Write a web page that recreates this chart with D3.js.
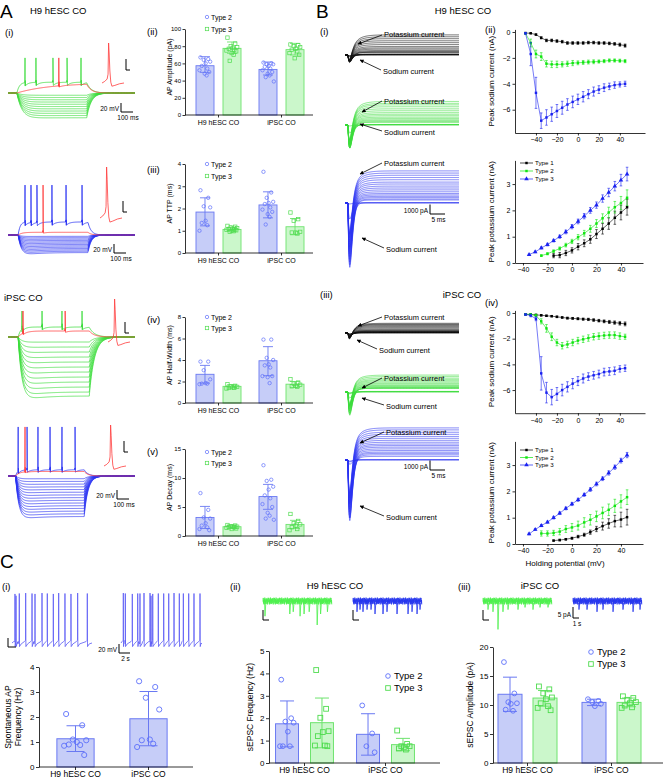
<!DOCTYPE html>
<html><head><meta charset="utf-8">
<script src="https://cdn.jsdelivr.net/npm/d3@7/dist/d3.min.js"></script>
<style>html,body{margin:0;padding:0;background:#fff}svg{display:block}</style>
</head><body>
<svg id="fig" width="668" height="778" xmlns="http://www.w3.org/2000/svg"></svg>
<script>
// ================= DATA =================
const groups = ["H9 hESC CO", "iPSC CO"];
const types = ["Type 2", "Type 3"];
// bar order: H9 Type 2, H9 Type 3, iPSC Type 2, iPSC Type 3
const apAmpMean = [57.3, 77.5, 53.0, 76.0];
const apAmpHi = [67.8, 84.9, 61.6, 83.3];
const apAmpLo = [49.6, 71.7, 46.5, 69.8];
const apAmpPts = [[67,65,64,62,60,57,54,52,50,48,46],[90,83,80,79,78,77,76,75,74,72,70,63],[61,60,59,59,57,56,54,52,50,48,46,44,39],[82,81,80,79,77,76,74,72,70,66]];
const apTtpMean = [1.84, 1.06, 2.16, 1.18];
const apTtpHi = [2.48, 1.15, 2.75, 1.55];
const apTtpLo = [1.22, 0.98, 1.58, 0.82];
const apTtpPts = [[2.82,2.48,2.1,2.05,1.45,1.35,1.25,1.0],[1.22,1.18,1.15,1.12,1.1,1.08,1.06,1.04,1.02,1.0,0.98,0.95],[3.65,2.72,2.48,2.3,2.25,2.2,2.05,1.95,1.85,1.75,1.62,1.28],[1.82,1.52,1.45,0.95,0.92,0.92,0.88]];
const apHwMean = [2.67, 1.55, 3.93, 1.75];
const apHwHi = [3.5, 1.7, 5.24, 2.0];
const apHwLo = [1.85, 1.4, 2.54, 1.45];
const apHwPts = [[3.85,3.85,3.05,2.2,1.85,1.8,1.8,1.75],[1.75,1.6,1.55,1.5,1.45,1.4,1.4,1.35],[5.9,5.9,4.2,4.0,3.6,3.5,3.3,2.5,2.5,2.4,1.85],[2.2,1.9,1.8,1.7,1.6,1.55,1.5]];
const apDecayMean = [3.2, 1.6, 6.8, 2.0];
const apDecayHi = [5.1, 1.9, 8.9, 2.7];
const apDecayLo = [1.3, 1.3, 4.6, 1.3];
const apDecayPts = [[7.4,4.5,3.2,3.0,2.2,1.8,1.5,1.2,1.0],[1.9,1.8,1.7,1.6,1.6,1.5,1.5,1.4,1.3,1.2],[12.2,9.7,9.5,8.5,8.0,7.0,6.5,5.5,5.0,4.0,3.5,3.0,2.8],[3.8,2.6,2.2,2.0,1.8,1.5,1.2,1.0]];

// spontaneous AP frequency (Hz): H9, iPSC
const spFreqMean = [1.13, 1.93];
const spFreqHi = [1.65, 3.02];
const spFreqLo = [0.62, 0.85];
const spFreqPts = [[2.12,1.67,1.1,1.07,1.0,0.9,0.88,0.85,0.48],[3.43,3.2,2.77,2.3,1.1,1.07,0.93,0.8]];
// sEPSC frequency (Hz)
const sepscFreqMean = [1.75, 1.8, 1.28, 0.82];
const sepscFreqHi = [2.77, 2.9, 2.2, 1.1];
const sepscFreqLo = [0.72, 0.68, 0.35, 0.55];
const sepscFreqPts = [[3.72,2.0,1.85,1.8,1.4,0.75,0.75,0.75],[4.15,2.42,2.02,1.42,1.38,1.2,0.78,0.78,0.75],[2.57,1.32,0.75,0.48],[1.45,0.85,0.75,0.75,0.7,0.65,0.6]];
// sEPSC amplitude (pA)
const sepscAmpMean = [11.85, 11.2, 10.45, 10.45];
const sepscAmpHi = [14.8, 12.5, 11.0, 11.2];
const sepscAmpLo = [8.9, 9.8, 9.9, 9.7];
const sepscAmpPts = [[17.4,12.0,10.5,10.3,10.2,9.2,9.0],[13.2,12.7,12.0,11.3,11.0,10.3,9.8,9.5,9.1],[11.0,10.7,10.5,10.2,9.8],[11.5,11.2,10.9,10.5,10.3,9.9,9.6,9.5]];

// I-V data (holding potential, mV)
const ivTypes = ["Type 1", "Type 2", "Type 3"];
const naVolt = [-50,-45,-40,-35,-30,-25,-20,-15,-10,-5,0,5,10,15,20,25,30,35,40,45];
const kVoltT1 = [-15,-10,-5,0,5,10,15,20,25,30,35,40,45];
const kVoltT2 = [-25,-20,-15,-10,-5,0,5,10,15,20,25,30,35,40,45];
const kVoltT3 = [-35,-30,-25,-20,-15,-10,-5,0,5,10,15,20,25,30,35,40,45];
// H9 hESC CO sodium (nA)
const naH9T1 = [-0.08,-0.1,-0.2,-0.45,-0.65,-0.65,-0.7,-0.75,-0.85,-0.85,-0.85,-0.85,-0.82,-0.82,-0.85,-0.85,-0.88,-0.92,-0.98,-1.05];
const naH9T1e = [0.03,0.03,0.05,0.08,0.1,0.1,0.1,0.1,0.1,0.1,0.1,0.1,0.1,0.1,0.1,0.1,0.1,0.1,0.12,0.12];
const naH9T2 = [-0.1,-0.85,-1.7,-1.9,-2.45,-2.5,-2.5,-2.5,-2.45,-2.4,-2.38,-2.35,-2.32,-2.3,-2.28,-2.25,-2.2,-2.2,-2.22,-2.25];
const naH9T2e = [0.05,0.3,0.3,0.3,0.25,0.25,0.25,0.2,0.2,0.2,0.15,0.15,0.15,0.15,0.12,0.12,0.12,0.12,0.12,0.12];
const naH9T3 = [-0.1,-1.7,-4.7,-6.85,-6.6,-6.35,-6.1,-5.85,-5.6,-5.4,-5.2,-5.0,-4.8,-4.6,-4.45,-4.3,-4.2,-4.1,-4.05,-4.0];
const naH9T3e = [0.05,0.9,1.2,0.6,0.6,0.55,0.5,0.5,0.45,0.45,0.4,0.4,0.35,0.35,0.3,0.3,0.25,0.25,0.2,0.2];
// H9 hESC CO potassium (nA)
const kH9T1 = [0.28,0.3,0.38,0.48,0.62,0.75,0.9,1.1,1.3,1.5,1.72,1.92,2.12];
const kH9T1e = [0.08,0.1,0.1,0.1,0.12,0.13,0.15,0.17,0.2,0.22,0.25,0.28,0.3];
const kH9T2 = [0.28,0.35,0.45,0.55,0.68,0.82,0.98,1.13,1.3,1.5,1.7,1.92,2.12,2.28,2.48];
const kH9T2e = [0.03,0.04,0.05,0.06,0.07,0.08,0.1,0.11,0.13,0.15,0.17,0.2,0.22,0.25,0.3];
const kH9T3 = [0.32,0.42,0.57,0.7,0.85,1.0,1.18,1.38,1.58,1.78,2.0,2.2,2.45,2.68,2.92,3.15,3.38];
const kH9T3e = [0.02,0.03,0.04,0.05,0.05,0.06,0.07,0.08,0.09,0.1,0.11,0.12,0.14,0.16,0.18,0.22,0.26];
// iPSC CO sodium (nA)
const naIpT1 = [-0.1,-0.12,-0.15,-0.18,-0.22,-0.25,-0.3,-0.35,-0.4,-0.42,-0.45,-0.48,-0.5,-0.55,-0.6,-0.65,-0.7,-0.75,-0.8,-0.85];
const naIpT1e = [0.03,0.03,0.04,0.05,0.05,0.05,0.06,0.06,0.07,0.07,0.08,0.08,0.09,0.1,0.1,0.11,0.12,0.13,0.14,0.15];
const naIpT2 = [-0.1,-0.12,-0.2,-0.65,-1.2,-1.85,-2.3,-2.55,-2.45,-2.3,-2.15,-2.05,-1.95,-1.85,-1.8,-1.75,-1.72,-1.72,-1.8,-1.85];
const naIpT2e = [0.05,0.05,0.1,0.2,0.3,0.3,0.25,0.25,0.25,0.25,0.25,0.25,0.25,0.25,0.25,0.25,0.25,0.25,0.25,0.2];
const naIpT3 = [-0.12,-0.2,-0.45,-4.7,-6.2,-6.55,-6.3,-6.0,-5.75,-5.5,-5.3,-5.1,-4.95,-4.85,-4.75,-4.6,-4.55,-4.5,-4.35,-4.3];
const naIpT3e = [0.05,0.1,0.15,1.3,0.8,0.6,0.5,0.45,0.4,0.4,0.35,0.35,0.3,0.3,0.3,0.3,0.3,0.3,0.25,0.25];
// iPSC CO potassium (nA)
const kIpT1 = [0.13,0.15,0.18,0.22,0.28,0.35,0.45,0.57,0.68,0.78,0.87,0.93,1.02];
const kIpT1e = [0.02,0.03,0.03,0.04,0.05,0.06,0.08,0.1,0.15,0.18,0.22,0.28,0.3];
const kIpT2 = [0.4,0.4,0.42,0.47,0.57,0.63,0.7,0.82,0.92,1.05,1.18,1.3,1.45,1.62,1.78];
const kIpT2e = [0.1,0.1,0.1,0.12,0.13,0.15,0.17,0.18,0.2,0.2,0.22,0.22,0.25,0.25,0.28];
const kIpT3 = [0.38,0.55,0.7,0.83,1.0,1.17,1.35,1.52,1.68,1.87,2.07,2.28,2.48,2.7,2.92,3.17,3.38];
const kIpT3e = [0.03,0.03,0.04,0.04,0.05,0.05,0.05,0.06,0.06,0.06,0.07,0.07,0.07,0.08,0.08,0.09,0.1];

// Current-clamp example traces (A i): step levels (mV from rest) and spike times (ms)
const h9T3Steps = [-5,-10,-15,-20,-25,-30,-35,-40,-45,-50,-55];
const h9T3Spikes = [134,220,354,465,575];
const h9T3RedSpikes = [400];
const h9T2Steps = [-3,-6,-9,-12,-15,-18,-21,-24,-27,-30,-33,-36,-39];
const h9T2Spikes = [134,181,228,346,457,583];
const h9T2RedSpikes = [276];
const ipT3Steps = [-10,-20,-30,-40,-50,-60,-70,-80,-90,-100,-110,-118];
const ipT3Spikes = [110,268,425,583];
const ipT3RedSpikes = [118,450];
const ipT2Steps = [-6,-12,-18,-24,-30,-36,-42,-48,-54,-60,-66,-72,-78,-84,-90];
const ipT2Spikes = [80,150,236,331,425,528];
const ipT2RedSpikes = [134];
// single expanded AP shape (ms, fraction of peak)
const insetShape = [[0,0],[15,0.04],[28,0.1],[33,0.22],[36,1.0],[39,0.75],[43,0.3],[48,0.02],[54,-0.08],[70,-0.06],[95,-0.02],[120,0]];

// spontaneous AP traces (C i): spike times (s), peak (mV)
const spontH9Times = [0.54,0.73,1.32,2.48,3.63,4.17,5.44,6.4,7.49,8.46,9.6,10.69,11.9,13.65];
const spontH9Peaks = [44,40,45,46,45,44,46,45,44,46,45,44,46,45];
const spontIpTimes = [0.42,0.78,2.05,3.03,3.44,4.17,5.26,5.44,5.75,6.76,7.74,8.65,9.61,10.57,11.3,12.27,13.23,14.32];
const spontIpPeaks = [46,45,44,45,45,46,46,40,44,45,45,45,46,45,45,45,45,45];
// sEPSC events (s, pA)
const evH9T3 = [0.35,4.7,5.3,6.5,7.2,8.1,9.5,10.1,11.3];
const evH9T3Amp = [6,5,4,6,5,4,10,5,4];
const evH9T2 = [0.7,1.23,1.75,2.46,3.16,3.86,5.26,5.96,7.72,9.65,10.35,11.23,11.75];
const evH9T2Amp = [4,3,4,3,3,5,5,4,5,5,4,5,3];
const evIpT3 = [0.88,1.75,2.63,3.5,4.39,6.14,7.37,8.77,10,11.4];
const evIpT3Amp = [3,4,12,4,3,3,2,3,2,2];
const evIpT2 = [1.05,2.46,4.21,5.26,7.02,8.77,10.53,11.75];
const evIpT2Amp = [3,3,4,3,4,3,4,3];
const noisePattern = [0.2,-0.9,0.7,-0.3,1.0,-0.6,0.4,-1.0,0.8,-0.2,0.5,-0.7,0.9,-0.4,0.1,-0.8,0.6,-0.5,1.0,-0.1,-0.95,0.3];

// ================= STYLE =================
const FONT = '"Liberation Sans", Arial, Helvetica, sans-serif';
const C2 = {stroke:"#6a79f2", fill:"#c6cdf8", pt:"#5e70fb"};
const C3 = {stroke:"#6ee36e", fill:"#cbf7cb", pt:"#4fdc4f"};
const IVC = ["#000000", "#10e610", "#1a22f0"];
const RED = "#ff3b3b", TGREEN = "#3bdc3b", TBLUE = "#2a32f2";
const jitter = [-0.7,0.5,-0.2,0.8,0.1,-0.5,0.35,-0.85,0.65,-0.05,0.25,-0.35,0.9,-0.6];

const svg = d3.select("#fig").attr("font-family", FONT);
svg.append("rect").attr("width",668).attr("height",778).attr("fill","#fff");
svg.append("defs").append("marker").attr("id","arr").attr("viewBox","0 0 10 10").attr("refX",9).attr("refY",5)
  .attr("markerWidth",5).attr("markerHeight",5).attr("orient","auto")
  .append("path").attr("d","M0,0L10,5L0,10z").attr("fill","#000");

function T(x, y, s, o = {}) {
  const t = svg.append("text").attr("x", x).attr("y", y).text(s)
    .attr("font-size", o.size || 8).attr("text-anchor", o.anchor || "start").attr("fill", o.fill || "#000");
  if (o.rot) t.attr("transform", `rotate(-90,${x},${y})`);
  return t;
}
function styleAxis(sel, fs) {
  sel.selectAll("text").attr("font-size", fs).attr("font-family", FONT).attr("fill", "#000");
  sel.selectAll("line,path").attr("stroke", "#000").attr("stroke-width", 0.8);
}
function marker(g, kind, x, y, r, col, sw) {
  if (kind === 0) g.append("circle").attr("cx",x).attr("cy",y).attr("r",r).attr("fill","none").attr("stroke",col).attr("stroke-width",sw);
  else g.append("rect").attr("x",x-r).attr("y",y-r).attr("width",2*r).attr("height",2*r).attr("fill","none").attr("stroke",col).attr("stroke-width",sw);
}

// ================= BAR CHARTS =================
function barChart(c) {
  const g = svg.append("g");
  const y = d3.scaleLinear().domain(c.domain).range([c.yBot, c.yTop]);
  const gx = d3.scaleBand().domain(groups).range(c.band).paddingInner(c.gPadIn || 0).paddingOuter(c.gPadOut || 0);
  const series = c.series;
  const sx = d3.scaleBand().domain(series).range([0, gx.bandwidth()]).paddingInner(c.padIn || 0).paddingOuter(c.padOut || 0);
  const bw = sx.bandwidth();
  groups.forEach((grp, gi) => series.forEach((s, si) => {
    const k = gi * series.length + si;
    const col = c.colors[si];
    const x0 = gx(grp) + sx(s), cx = x0 + bw / 2;
    g.append("rect").attr("x", x0).attr("y", y(c.mean[k])).attr("width", bw).attr("height", y(0) - y(c.mean[k]))
      .attr("fill", col.fill).attr("stroke", col.stroke).attr("stroke-width", c.sw);
    const cap = c.cap;
    g.append("line").attr("x1",cx).attr("x2",cx).attr("y1",y(c.lo[k])).attr("y2",y(c.hi[k])).attr("stroke",col.stroke).attr("stroke-width",c.sw);
    [c.lo[k], c.hi[k]].forEach(v => g.append("line").attr("x1",cx-cap).attr("x2",cx+cap).attr("y1",y(v)).attr("y2",y(v)).attr("stroke",col.stroke).attr("stroke-width",c.sw));
    c.pts[k].forEach((v, i) => marker(g, c.kinds[si], cx + jitter[i % jitter.length] * bw * 0.36, y(v), c.r, col.pt, c.psw));
  }));
  // y axis
  const ya = d3.axisLeft(y).tickValues(c.ticks).tickSize(c.tl).tickSizeOuter(0).tickPadding(1.5).tickFormat(d3.format("~g"));
  g.append("g").attr("transform", `translate(${c.x0},0)`).call(ya).call(s => styleAxis(s, c.tf));
  // x axis
  g.append("line").attr("x1", c.x0).attr("x2", c.x1).attr("y1", c.yBot).attr("y2", c.yBot).attr("stroke","#000").attr("stroke-width",0.8);
  groups.forEach(grp => {
    const cx = gx(grp) + gx.bandwidth() / 2;
    g.append("line").attr("x1",cx).attr("x2",cx).attr("y1",c.yBot).attr("y2",c.yBot + c.tl).attr("stroke","#000").attr("stroke-width",0.8);
    g.append("text").attr("x", cx).attr("y", c.yBot + c.xly).attr("text-anchor","middle").attr("font-size", c.xf).text(grp);
  });
  // y label
  const ym = (c.yTop + c.yBot) / 2;
  c.yLabel.forEach((s, i) => T(c.ylx + i * c.yldx, ym + (c.ylOff || 0), s, {size: c.lf, anchor: "middle", rot: true}));
  // legend
  if (c.legend) series.forEach((s, si) => {
    const ly = c.legend.y + si * c.legend.dy;
    marker(g, c.kinds[si], c.legend.x, ly, c.legend.r, c.colors[si].pt, c.psw);
    g.append("text").attr("x", c.legend.x + c.legend.tx).attr("y", ly + c.legend.fs * 0.36).attr("font-size", c.legend.fs).text(s);
  });
}

const aCommon = {x0:185, x1:313, band:[187,313], series:types, colors:[C2,C3], kinds:[0,1], padIn:0.333, padOut:0.333,
  sw:0.9, cap:5, r:1.7, psw:0.7, tl:2.5, tf:6, xf:7, xly:10, lf:7, ylx:172, yldx:0, ylOff:-5};
barChart(Object.assign({}, aCommon, {yTop:29, yBot:115, domain:[0,100], ticks:[0,20,40,60,80,100], mean:apAmpMean, hi:apAmpHi, lo:apAmpLo, pts:apAmpPts,
  yLabel:["AP Amplitude (pA)"], legend:{x:207, y:17, dy:12, r:1.7, tx:4, fs:7}}));
barChart(Object.assign({}, aCommon, {yTop:164, yBot:253, domain:[0,4], ticks:[0,1,2,3,4], mean:apTtpMean, hi:apTtpHi, lo:apTtpLo, pts:apTtpPts,
  yLabel:["AP TTP (ms)"], legend:{x:207, y:164, dy:12, r:1.7, tx:4, fs:7}}));
barChart(Object.assign({}, aCommon, {yTop:317, yBot:403, domain:[0,8], ticks:[0,2,4,6,8], mean:apHwMean, hi:apHwHi, lo:apHwLo, pts:apHwPts,
  yLabel:["AP Half-Width (ms)"], legend:{x:207, y:317, dy:11, r:1.7, tx:4, fs:7}}));
barChart(Object.assign({}, aCommon, {yTop:449, yBot:536, domain:[0,15], ticks:[0,5,10,15], mean:apDecayMean, hi:apDecayHi, lo:apDecayLo, pts:apDecayPts,
  yLabel:["AP Decay (ms)"], legend:{x:207, y:452, dy:11, r:1.7, tx:4, fs:7}}));

// C bar charts
barChart({x0:39, x1:193, band:[39,185], gPadIn:0.49, gPadOut:0.245, series:["all"], colors:[C2], kinds:[0],
  yTop:667, yBot:767, domain:[0,4], ticks:[0,1,2,3,4], mean:spFreqMean, hi:spFreqHi, lo:spFreqLo, pts:spFreqPts,
  sw:1, cap:9, r:2.6, psw:0.9, tl:3, tf:8, xf:8.5, xly:10, lf:8.5, ylx:11, yldx:10, yLabel:["Spontaneous AP","Frequency (Hz)"]});
barChart({x0:269, x1:440, band:[264,426], series:types, colors:[C2,C3], kinds:[0,1], padIn:0.343, padOut:0.33,
  yTop:651, yBot:763, domain:[0,5], ticks:[0,1,2,3,4,5], mean:sepscFreqMean, hi:sepscFreqHi, lo:sepscFreqLo, pts:sepscFreqPts,
  sw:1, cap:7, r:2.4, psw:0.9, tl:3, tf:8, xf:8.5, xly:10, lf:8.5, ylx:253, yldx:0, yLabel:["sEPSC Frequency (Hz)"],
  legend:{x:388, y:676, dy:12, r:2.3, tx:6, fs:9.5}});
barChart({x0:493, x1:663, band:[485.5,653.5], series:types, colors:[C2,C3], kinds:[0,1], padIn:0.314, padOut:0.357,
  yTop:647, yBot:763, domain:[0,20], ticks:[0,5,10,15,20], mean:sepscAmpMean, hi:sepscAmpHi, lo:sepscAmpLo, pts:sepscAmpPts,
  sw:1, cap:7, r:2.4, psw:0.9, tl:3, tf:8, xf:8.5, xly:10, lf:8.5, ylx:473, yldx:0, yLabel:["sEPSC Amplitude (pA)"],
  legend:{x:591, y:652, dy:12, r:2.3, tx:6, fs:9.5}});

// ================= I-V CHARTS =================
function ivChart(c) {
  const g = svg.append("g");
  const x = d3.scaleLinear().domain(c.xDom).range(c.xRange);
  const y = d3.scaleLinear().domain(c.yDom).range(c.yRange);
  const ya = d3.axisLeft(y).tickValues(c.yTicks).tickSize(2.5).tickSizeOuter(0).tickPadding(2).tickFormat(d3.format("d"));
  g.append("g").attr("transform", `translate(${c.xRange[0]},0)`).call(ya).call(s => styleAxis(s, 7));
  const xa = d3.axisBottom(x).tickValues([-40,-20,0,20,40]).tickSize(2.5).tickSizeOuter(0).tickPadding(2).tickFormat(d3.format("d"));
  g.append("g").attr("transform", `translate(0,${Math.max(c.yRange[0], c.yRange[1])})`).call(xa).call(s => styleAxis(s, 7));
  c.series.forEach((s, si) => {
    const col = IVC[si];
    const pts = s.v.map((v, i) => ({x: s.x[i], y: v, e: s.e[i]}));
    g.append("path").datum(pts).attr("d", d3.line().x(d => x(d.x)).y(d => y(d.y))).attr("fill","none").attr("stroke",col).attr("stroke-width",0.7).attr("opacity",0.85);
    pts.forEach(d => {
      g.append("line").attr("x1",x(d.x)).attr("x2",x(d.x)).attr("y1",y(d.y-d.e)).attr("y2",y(d.y+d.e)).attr("stroke",col).attr("stroke-width",0.6);
      [d.y-d.e, d.y+d.e].forEach(v => g.append("line").attr("x1",x(d.x)-1.3).attr("x2",x(d.x)+1.3).attr("y1",y(v)).attr("y2",y(v)).attr("stroke",col).attr("stroke-width",0.6));
      const sym = d3.symbol().type(c.tri && si === 2 ? d3.symbolTriangle : d3.symbolSquare).size(c.tri && si === 2 ? 9 : 6);
      g.append("path").attr("d", sym()).attr("transform", `translate(${x(d.x)},${y(d.y)})`).attr("fill", col);
    });
  });
  const ym = (c.yRange[0] + c.yRange[1]) / 2;
  T(c.ylx, ym, c.yLabel, {size: 8, anchor: "middle", rot: true});
  if (c.legend) ivTypes.forEach((s, si) => {
    const ly = c.legend.y + si * c.legend.dy;
    g.append("line").attr("x1", c.legend.x).attr("x2", c.legend.x + 13).attr("y1", ly).attr("y2", ly).attr("stroke", IVC[si]).attr("stroke-width", 0.7);
    const sym = d3.symbol().type(si === 2 ? d3.symbolTriangle : d3.symbolSquare).size(si === 2 ? 9 : 6);
    g.append("path").attr("d", sym()).attr("transform", `translate(${c.legend.x + 6.5},${ly})`).attr("fill", IVC[si]);
    g.append("text").attr("x", c.legend.x + 15).attr("y", ly + 2.2).attr("font-size", 6.2).text(s);
  });
}
const naX = [-60, 64], naXR = [515, 645];
const kX = [-46.5, 58], kXR = [515, 643];
ivChart({xDom:naX, xRange:naXR, yDom:[0.2,-7.8], yRange:[29.4,133], yTicks:[0,-2,-4,-6], ylx:494, yLabel:"Peak sodium current (nA)",
  series:[{x:naVolt,v:naH9T1,e:naH9T1e},{x:naVolt,v:naH9T2,e:naH9T2e},{x:naVolt,v:naH9T3,e:naH9T3e}]});
ivChart({xDom:kX, xRange:kXR, yDom:[0,3.9], yRange:[263,160.4], yTicks:[0,1,2,3], ylx:494, yLabel:"Peak potassium current (nA)", tri:true,
  legend:{x:520, y:163, dy:8},
  series:[{x:kVoltT1,v:kH9T1,e:kH9T1e},{x:kVoltT2,v:kH9T2,e:kH9T2e},{x:kVoltT3,v:kH9T3,e:kH9T3e}]});
ivChart({xDom:naX, xRange:naXR, yDom:[0.2,-7.8], yRange:[310.4,413.2], yTicks:[0,-2,-4,-6], ylx:494, yLabel:"Peak sodium current (nA)",
  series:[{x:naVolt,v:naIpT1,e:naIpT1e},{x:naVolt,v:naIpT2,e:naIpT2e},{x:naVolt,v:naIpT3,e:naIpT3e}]});
ivChart({xDom:kX, xRange:kXR, yDom:[0,3.9], yRange:[544,441.4], yTicks:[0,1,2,3], ylx:494, yLabel:"Peak potassium current (nA)", tri:true,
  legend:{x:520, y:450, dy:7.5},
  series:[{x:kVoltT1,v:kIpT1,e:kIpT1e},{x:kVoltT2,v:kIpT2,e:kIpT2e},{x:kVoltT3,v:kIpT3,e:kIpT3e}]});
T(565, 566, "Holding potential (mV)", {size: 8, anchor: "middle"});

// ================= VOLTAGE-CLAMP FAMILIES (B i, iii) =================
function currentFamily(x0, base, na, kV, kv, color, pxPerNA) {
  const g = svg.append("g");
  const tx = d3.scaleLinear().domain([0, 38]).range([x0, x0 + 114]);
  const iy = d3.scaleLinear().domain([0, 1]).range([base, base - pxPerNA]);
  naVolt.forEach((v, i) => {
    const ki = kV.indexOf(v);
    const k = ki >= 0 ? kv[ki] : 0.05 * (i + 1) / 4;
    const pts = d3.range(0, 38.01, 0.2).map(t => {
      let I = 0;
      if (t >= 1) { const u = t - 1; I = k * (1 - Math.exp(-u / 2.2)) + na[i] * (u / 0.6) * Math.exp(1 - u / 0.6); }
      return [t, I];
    });
    g.append("path").attr("d", d3.line().x(d => tx(d[0])).y(d => iy(d[1]))(pts)).attr("fill","none").attr("stroke",color).attr("stroke-width",0.6);
  });
}
currentFamily(345, 55, naH9T1, kVoltT1, kH9T1, "#111", 9.5);
currentFamily(345, 125, naH9T2, kVoltT2, kH9T2, TGREEN, 9.5);
currentFamily(345, 203, naH9T3, kVoltT3, kH9T3, TBLUE, 9.5);
currentFamily(345, 333, naIpT1, kVoltT1, kIpT1, "#111", 9.5);
currentFamily(345, 392, naIpT2, kVoltT2, kIpT2, TGREEN, 9.5);
currentFamily(345, 460, naIpT3, kVoltT3, kIpT3, TBLUE, 9.5);

const arrowNotes = [
  ["Potassium current",384,37,382,35,358,44], ["Sodium current",383,74,381,70,360,60],
  ["Potassium current",384,104,382,101,362,112], ["Sodium current",384,135,382,131,360,124],
  ["Potassium current",384,166,382,163,360,174], ["Sodium current",386,252,384,248,362,238],
  ["Potassium current",384,320,382,317,358,326], ["Sodium current",379,353,377,349,357,340],
  ["Potassium current",384,381,382,378,362,388], ["Sodium current",386,409,384,405,362,398],
  ["Potassium current",386,435,384,432,360,443], ["Sodium current",386,520,384,516,360,506]];
arrowNotes.forEach(a => {
  T(a[1], a[2], a[0], {size: 7.5});
  svg.append("line").attr("x1",a[3]).attr("y1",a[4]).attr("x2",a[5]).attr("y2",a[6]).attr("stroke","#000").attr("stroke-width",0.8).attr("marker-end","url(#arr)");
});
function scaleBar(cx, cy, h, w, lbl1, lbl2, fs) {
  svg.append("path").attr("d", `M${cx},${cy - h}V${cy}H${cx + w}`).attr("fill","none").attr("stroke","#000").attr("stroke-width",1);
  if (lbl1) T(cx - 2, cy - 1, lbl1, {size: fs, anchor: "end"});
  if (lbl2) T(cx + w / 2 + 1, cy + fs + 1, lbl2, {size: fs, anchor: "middle"});
}
scaleBar(430, 214, 9.5, 15, "1000 pA", "5 ms", 6.5);
scaleBar(430, 470, 9.5, 15, "1000 pA", "5 ms", 6.5);

// ================= CURRENT-CLAMP TRACES (A i) =================
function ccPanel(c) {
  const g = svg.append("g");
  const tx = d3.scaleLinear().domain([0, 1000]).range([8, 135]);
  const vy = d3.scaleLinear().domain([0, 1]).range([c.base, c.base - c.k]);
  const line = d3.line().x(d => tx(d[0])).y(d => vy(d[1]));
  const stepV = (t, L, tau, sag) => {
    if (t < c.on) return 0;
    const u = Math.min(t, c.off) - c.on;
    let v = L * (1 - Math.exp(-u / tau)) * (1 + sag * Math.exp(-u / 120));
    if (t > c.off) v *= Math.exp(-(t - c.off) / c.tauOff);
    return v;
  };
  c.steps.forEach(L => {
    const pts = d3.range(0, 1001, 4).map(t => [t, stepV(t, L, c.tau, c.sag)]);
    g.append("path").attr("d", line(pts)).attr("fill","none").attr("stroke",c.color).attr("stroke-width",0.7);
  });
  function spiking(s, color) {
    const f = t => stepV(t, s.level, s.tau, 0) - d3.sum(s.times, ts => t > ts ? s.ahp * Math.exp(-(t - ts) / 25) : 0);
    const pts = d3.range(0, 1001, 3).map(t => [t, f(t)]);
    s.times.forEach(ts => { pts.push([ts - 1.5, f(ts - 1.5) + 4]); pts.push([ts, s.peak]); pts.push([ts + 2, f(ts + 2) + 12]); });
    pts.sort((a, b) => a[0] - b[0]);
    g.append("path").attr("d", line(pts)).attr("fill","none").attr("stroke",color).attr("stroke-width",0.8);
  }
  spiking(c.spike, c.color);
  spiking(c.red, RED);
  // expanded AP inset
  const ix = d3.scaleLinear().domain([0, 120]).range(c.inset.x);
  const iyy = d3.scaleLinear().domain([0, 1]).range([c.inset.base, c.inset.peak]);
  g.append("path").attr("d", d3.line().x(d => ix(d[0])).y(d => iyy(d[1]))(insetShape)).attr("fill","none").attr("stroke",RED).attr("stroke-width",0.8);
  scaleBar(c.inset.bar[0], c.inset.bar[1], 11, 4, null, null, 6);
  if (c.bar) scaleBar(c.bar[0], c.bar[1], 9, 12, "20 mV", "100 ms", 6.5);
}
ccPanel({base:93, k:0.45, on:70, off:620, tau:40, tauOff:35, sag:0.05, steps:h9T3Steps, color:TGREEN,
  spike:{level:24, tau:20, times:h9T3Spikes, peak:78, ahp:8}, red:{level:22, tau:260, times:h9T3RedSpikes, peak:78, ahp:3},
  inset:{x:[102,124], base:83, peak:43, bar:[126,70]}, bar:[121,112]});
ccPanel({base:235, k:0.45, on:80, off:630, tau:25, tauOff:25, sag:0.2, steps:h9T2Steps, color:TBLUE,
  spike:{level:29, tau:15, times:h9T2Spikes, peak:111, ahp:8}, red:{level:6, tau:30, times:h9T2RedSpikes, peak:111, ahp:2},
  inset:{x:[100,122], base:218, peak:167, bar:[123,212]}, bar:[114,253]});
ccPanel({base:337, k:0.5, on:80, off:640, tau:30, tauOff:40, sag:0.12, steps:ipT3Steps, color:TGREEN,
  spike:{level:20, tau:20, times:ipT3Spikes, peak:52, ahp:6}, red:{level:12, tau:40, times:ipT3RedSpikes, peak:52, ahp:3},
  inset:{x:[108,130], base:342, peak:299, bar:[125,333]}});
ccPanel({base:476, k:0.45, on:60, off:600, tau:25, tauOff:30, sag:0.1, steps:ipT2Steps, color:TBLUE,
  spike:{level:14, tau:15, times:ipT2Spikes, peak:109, ahp:6}, red:{level:10, tau:30, times:ipT2RedSpikes, peak:109, ahp:2},
  inset:{x:[104,126], base:466, peak:425, bar:[124,452]}, bar:[117,499]});

// ================= SPONTANEOUS AP TRACES (C i) =================
function spontTrace(x0, base, times, peaks) {
  const tx = d3.scaleLinear().domain([0, 14.5]).range([x0, x0 + 80]);
  const vy = d3.scaleLinear().domain([0, 1]).range([base, base - 0.45]);
  const pts = [[0, 0]];
  times.forEach((ts, i) => { pts.push([ts - 0.25, 3], [ts - 0.03, 6], [ts, peaks[i] + 65], [ts + 0.04, -8], [ts + 0.35, -2]); });
  pts.push([14.5, 0]);
  pts.sort((a, b) => a[0] - b[0]);
  svg.append("path").attr("d", d3.line().x(d => tx(d[0])).y(d => vy(d[1]))(pts)).attr("fill","none").attr("stroke","#5b5bf5").attr("stroke-width",0.8);
}
spontTrace(12, 643, spontH9Times, spontH9Peaks);
spontTrace(121, 643, spontIpTimes, spontIpPeaks);
scaleBar(8, 647, 9, 8, null, null, 6);
scaleBar(119, 653, 9, 11, "20 mV", "2 s", 6.5);

// ================= sEPSC TRACES (C ii, iii) =================
function sepscTrace(x0, base, ev, amp, color) {
  const tx = d3.scaleLinear().domain([0, 12.1]).range([x0, x0 + 69]);
  const pts = d3.range(0, 12.1, 0.045).map((t, i) => [tx(t), base + noisePattern[i % noisePattern.length] * 3.4]);
  svg.append("path").attr("d", d3.line()(pts)).attr("fill","none").attr("stroke",color).attr("stroke-width",0.8);
  ev.forEach((t, i) => svg.append("path").attr("d", `M${tx(t) - 0.4},${base + 2}L${tx(t)},${base + 2 + amp[i] * 2.2}L${tx(t) + 0.8},${base + 2}`)
    .attr("fill","none").attr("stroke",color).attr("stroke-width",0.8));
}
sepscTrace(263, 601, evH9T3, evH9T3Amp, "#4cf04c");
sepscTrace(353, 601, evH9T2, evH9T2Amp, "#2535ee");
sepscTrace(483, 601, evIpT3, evIpT3Amp, "#4cf04c");
sepscTrace(573, 601, evIpT2, evIpT2Amp, "#2535ee");
scaleBar(263, 620, 10, 6, null, null, 6);
scaleBar(353, 620, 10, 6, null, null, 6);
scaleBar(483, 620, 10, 6, null, null, 6);
scaleBar(573, 618, 11, 6, "5 pA", "1 s", 6.5);

// ================= PANEL LABELS =================
T(0, 18, "A", {size: 19});
T(30, 14, "H9 hESC CO", {size: 9.5});
T(5, 36, "(i)", {size: 9.5});
T(147, 35, "(ii)", {size: 9.5});
T(147, 173, "(iii)", {size: 9.5});
T(147, 323, "(iv)", {size: 9.5});
T(147, 455, "(v)", {size: 9.5});
T(4, 301, "iPSC CO", {size: 9.5});
T(316, 18, "B", {size: 19});
T(463, 14, "H9 hESC CO", {size: 9.5, anchor: "middle"});
T(320, 35, "(i)", {size: 9.5});
T(485, 33, "(ii)", {size: 9.5});
T(462, 298, "iPSC CO", {size: 9.5, anchor: "middle"});
T(320, 298, "(iii)", {size: 9.5});
T(485, 306, "(iv)", {size: 9.5});
T(0, 568, "C", {size: 19});
T(2, 590, "(i)", {size: 9.5});
T(230, 590, "(ii)", {size: 9.5});
T(335, 589, "H9 hESC CO", {size: 9.5, anchor: "middle"});
T(458, 590, "(iii)", {size: 9.5});
T(540, 589, "iPSC CO", {size: 9.5, anchor: "middle"});
</script>
</body></html>
